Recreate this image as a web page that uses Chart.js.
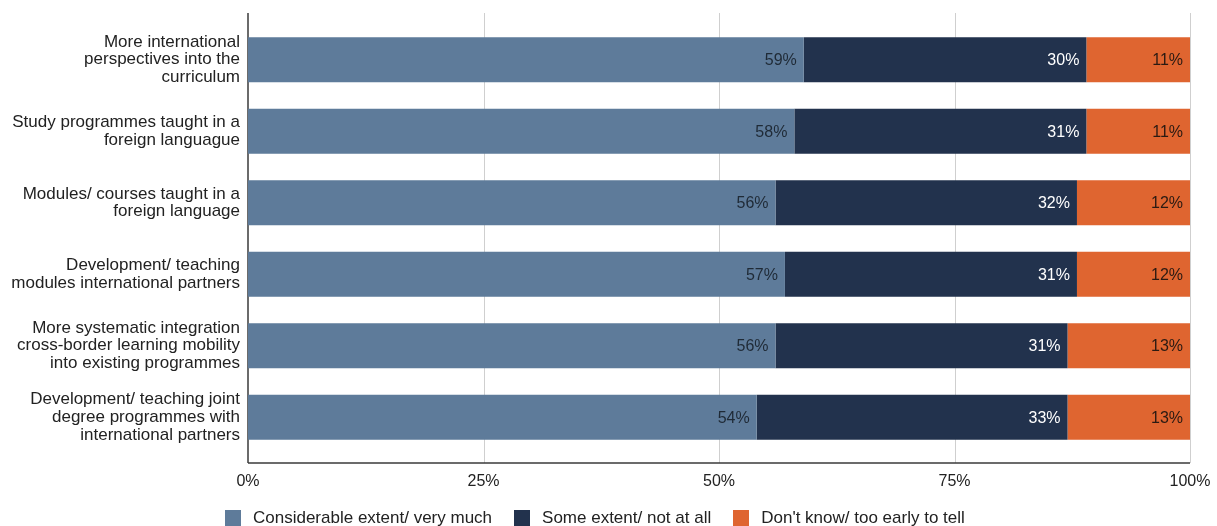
<!DOCTYPE html>
<html>
<head>
<meta charset="utf-8">
<script src="https://cdn.jsdelivr.net/npm/chart.js@4.4.1/dist/chart.umd.min.js"></script>
<style>
  html, body { margin: 0; padding: 0; background: #fff; }
  #wrap { position: relative; width: 1217px; height: 526px; }
  #legend {
    position: absolute; left: 225px; top: 508px;
    display: flex; gap: 22px;
    font: 17px "Liberation Sans", Arial, sans-serif; color: #222;
  }
  #legend span.item { display: flex; align-items: center; }
  #legend i { display: inline-block; width: 16px; height: 16px; margin-right: 12px; }
</style>
</head>
<body>
<div id="wrap">
  <canvas id="chart" width="1217" height="526"></canvas>
  <div id="legend"></div>
</div>
<script>
// ── Data ──
const categories = [
    ['More international', 'perspectives into the', 'curriculum'],
    ['Study programmes taught in a', 'foreign languague'],
    ['Modules/ courses taught in a', 'foreign language'],
    ['Development/ teaching', 'modules international partners'],
    ['More systematic integration', 'cross-border learning mobility', 'into existing programmes'],
    ['Development/ teaching joint', 'degree programmes with', 'international partners']
];
const seriesNames   = ['Considerable extent/ very much', 'Some extent/ not at all', "Don't know/ too early to tell"];
const considerable  = [59, 58, 56, 57, 56, 54];
const someExtent    = [30, 31, 32, 31, 31, 33];
const dontKnow      = [11, 11, 12, 12, 13, 13];
const xTicks        = [0, 25, 50, 75, 100];

const colors     = ['#5e7b9a', '#22324d', '#df6530'];
const labelColor = ['#1f2a36', '#ffffff', '#2a1a12'];
const FONT = '"Liberation Sans", Arial, sans-serif';

// Axis lines + grid run a little past the bar area, drawn by hand
const axisFrame = {
    id: 'axisFrame',
    beforeDatasetsDraw(chart) {
        const { ctx, chartArea, scales } = chart;
        const top = chartArea.top - 11, bottom = chartArea.bottom + 10;
        ctx.save();
        ctx.lineWidth = 1;
        ctx.strokeStyle = '#cfcfcf';
        xTicks.forEach(v => {
            if (v === 0) return;
            const x = Math.round(scales.x.getPixelForValue(v)) + 0.5;
            ctx.beginPath(); ctx.moveTo(x, top); ctx.lineTo(x, bottom); ctx.stroke();
        });
        ctx.strokeStyle = '#3a3a3a';
        ctx.lineWidth = 1.5;
        const x0 = Math.round(scales.x.getPixelForValue(0));
        ctx.beginPath(); ctx.moveTo(x0, top); ctx.lineTo(x0, bottom); ctx.stroke();
        ctx.beginPath();
        ctx.moveTo(x0, bottom);
        ctx.lineTo(Math.round(scales.x.getPixelForValue(100)), bottom);
        ctx.stroke();
        ctx.restore();
    }
};

// Value labels at the right end of every segment
const segmentLabels = {
    id: 'segmentLabels',
    afterDatasetsDraw(chart) {
        const { ctx } = chart;
        ctx.save();
        ctx.font = '16px ' + FONT;
        ctx.textAlign = 'right';
        ctx.textBaseline = 'middle';
        chart.data.datasets.forEach((ds, i) => {
            chart.getDatasetMeta(i).data.forEach((bar, j) => {
                ctx.fillStyle = labelColor[i];
                ctx.fillText(ds.data[j] + '%', bar.x - 7, bar.y + 1);
            });
        });
        ctx.restore();
    }
};

const chart = new Chart(document.getElementById('chart').getContext('2d'), {
    type: 'bar',
    data: {
        labels: categories,
        datasets: [considerable, someExtent, dontKnow].map((d, i) => ({
            label: seriesNames[i],
            data: d,
            backgroundColor: colors[i],
            borderWidth: 0,
            barPercentage: 0.63,
            categoryPercentage: 1
        }))
    },
    options: {
        indexAxis: 'y',
        responsive: false,
        animation: false,
        layout: { padding: { top: 24, right: 27, left: 0, bottom: 0 } },
        plugins: {
            legend: { display: false },
            tooltip: { enabled: false }
        },
        scales: {
            x: {
                stacked: true,
                min: 0, max: 100,
                border: { display: false },
                grid: { display: false, drawTicks: false },
                afterBuildTicks: scale => { scale.ticks = xTicks.map(v => ({ value: v })); },
                afterFit: scale => {
                    scale.height = 73;
                    scale.paddingLeft = 0;
                    scale.paddingRight = 0;
                },
                ticks: {
                    padding: 19,
                    color: '#222',
                    font: { family: FONT, size: 16 },
                    callback: v => v + '%'
                }
            },
            y: {
                stacked: true,
                border: { display: false },
                grid: { display: false, drawTicks: false },
                afterFit: scale => {
                    scale.width = 248;
                    scale.paddingTop = 0;
                    scale.paddingBottom = 0;
                },
                ticks: {
                    padding: 8,
                    color: '#222',
                    font: { family: FONT, size: 17, lineHeight: 1.05 }
                }
            }
        }
    },
    plugins: [axisFrame, segmentLabels]
});

// Legend under the axis
const legendEl = document.getElementById('legend');
chart.data.datasets.forEach(ds => {
    const item = document.createElement('span');
    item.className = 'item';
    item.innerHTML = '<i style="background:' + ds.backgroundColor + '"></i>' + ds.label;
    legendEl.appendChild(item);
});
</script>
</body>
</html>
